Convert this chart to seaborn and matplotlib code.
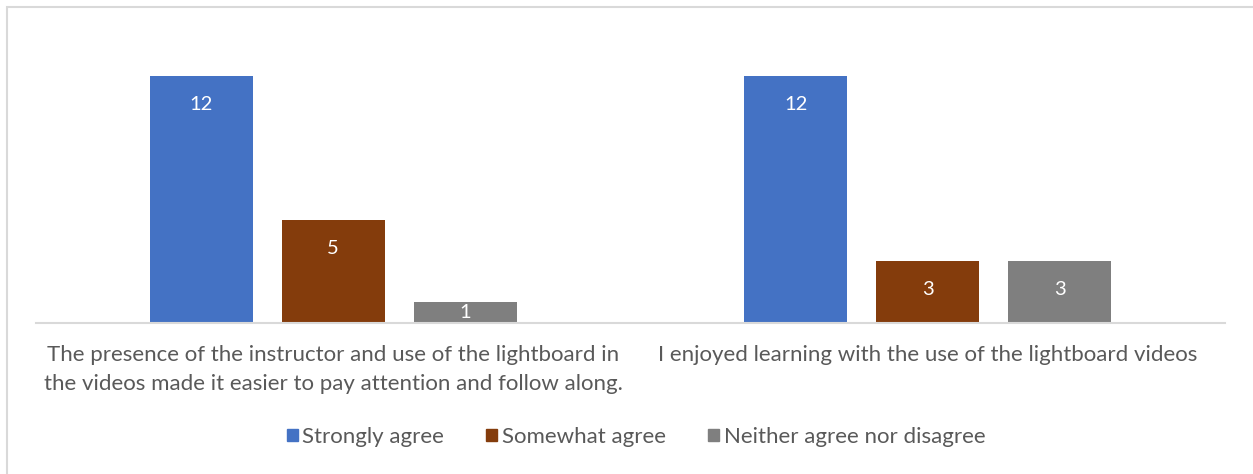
import matplotlib
matplotlib.use("Agg")
import matplotlib.pyplot as plt
import seaborn as sns
import pandas as pd
from matplotlib.patches import Rectangle

statements = [
    "The presence of the instructor and use of the lightboard in\nthe videos made it easier to pay attention and follow along.",
    "I enjoyed learning with the use of the lightboard videos",
]
responses = ["Strongly agree", "Somewhat agree", "Neither agree nor disagree"]
strongly_agree = [12, 12]
somewhat_agree = [5, 3]
neither = [1, 3]
colors = ["#4472C4", "#843C0C", "#7F7F7F"]

df = pd.DataFrame({
    "statement": statements * 3,
    "response": [r for r in responses for _ in statements],
    "count": strongly_agree + somewhat_agree + neither,
})

sns.set_theme(style="white")
plt.rcParams["font.family"] = ["Lato", "DejaVu Sans"]
text_color = "#595959"

fig = plt.figure(figsize=(12.53, 4.74), dpi=100)
ax = fig.add_axes([36 / 1253, 1 - 323 / 474, (1225 - 36) / 1253, (323 - 35) / 474])

sns.barplot(data=df, x="statement", y="count", hue="response",
            hue_order=responses, order=statements, palette=colors,
            width=0.667, gap=0.22, saturation=1, ax=ax, legend=False,
            edgecolor="none")

ax.set_ylim(0, 14)
ax.set_xlim(-0.5, 1.5)
ax.set_xlabel("")
ax.set_ylabel("")
ax.set_yticks([])
for s in ["top", "right", "left"]:
    ax.spines[s].set_visible(False)
ax.spines["bottom"].set_color("#D9D9D9")
ax.spines["bottom"].set_linewidth(1.5)
ax.tick_params(axis="x", length=0, pad=16, labelsize=16, colors=text_color)
for lbl in ax.get_xticklabels():
    lbl.set_linespacing(1.55)

# value labels inside the top of each bar
for p in ax.patches:
    h = p.get_height()
    if h <= 0:
        continue
    y = h - 1.36 if h > 2 else h / 2
    ax.text(p.get_x() + p.get_width() / 2, y, f"{int(h)}",
            ha="center", va="center", color="white", fontsize=14.5)

handles = [Rectangle((0, 0), 1, 1, color=c) for c in colors]
fig.legend(handles, responses, loc="center", bbox_to_anchor=(636 / 1253, 1 - 437 / 474),
           ncol=3, frameon=False, fontsize=16, handlelength=0.5, handleheight=0.5,
           handletextpad=0.2, columnspacing=1.9, labelcolor=text_color)

# chart border
fig.patches.append(Rectangle((7 / 1253, -0.1), 1.2, 1 - 7 / 474 + 0.1, transform=fig.transFigure,
                             fill=False, edgecolor="#D9D9D9", linewidth=1.5))

fig.savefig("out.png", dpi=100)
